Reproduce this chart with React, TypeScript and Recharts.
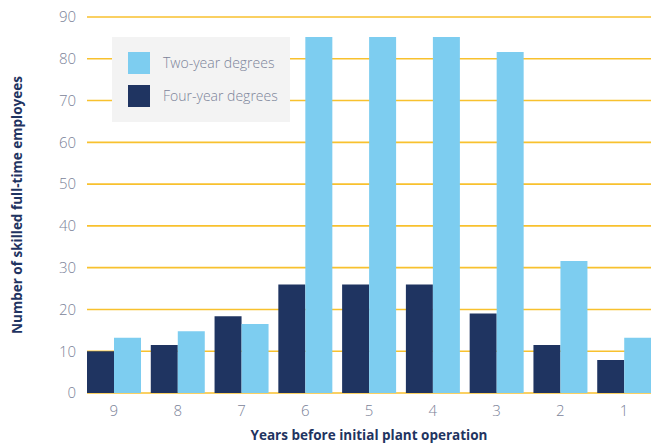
import { BarChart, Bar, XAxis, YAxis, CartesianGrid } from "recharts";

const years = ["9", "8", "7", "6", "5", "4", "3", "2", "1"];
const fourYear = [10, 11.5, 18.4, 26, 26, 26, 19, 11.5, 7.9];
const twoYear = [13.2, 14.8, 16.5, 85.2, 85.2, 85.2, 81.6, 31.6, 13.2];
const yTicks = [0, 10, 20, 30, 40, 50, 60, 70, 80, 90];

const NAVY = "#1f3461";
const SKY = "#7dcdf0";
const GOLD = "#f8c12e";
const GREY_TEXT = "#7b8399";
const FONT = "'Open Sans', sans-serif";

const chartData = years.map((y, i) => ({
  year: y,
  four: fourYear[i],
  two: twoYear[i],
}));

// legend is drawn as an overlay so it doesn't eat into the plot area
function LegendBox() {
  const items = [
    { label: "Two-year degrees", color: SKY },
    { label: "Four-year degrees", color: NAVY },
  ];
  return (
    <div
      style={{
        position: "absolute",
        left: 112,
        top: 37,
        background: "#f3f3f3",
        width: 178,
        height: 85,
        boxSizing: "border-box",
        paddingTop: 9,
        paddingLeft: 16,
      }}
    >
      {items.map((it) => (
        <div key={it.label} style={{ display: "flex", alignItems: "center", height: 33 }}>
          <div style={{ width: 22, height: 22, background: it.color }} />
          <span
            style={{
              marginLeft: 13,
              fontFamily: FONT,
              fontWeight: 300,
              fontSize: 14,
              color: GREY_TEXT,
            }}
          >
            {it.label}
          </span>
        </div>
      ))}
    </div>
  );
}

export default function App() {
  return (
    <div style={{ position: "absolute", left: 0, top: 0, width: 651, height: 444, background: "#fff" }}>
      <BarChart
        width={651}
        height={444}
        data={chartData}
        margin={{ top: 17, right: 0, bottom: 0, left: 0 }}
        barCategoryGap={5}
        barGap={0}
      >
        <CartesianGrid vertical={false} stroke={GOLD} strokeWidth={1.6} />
        <XAxis
          dataKey="year"
          height={51}
          padding={{ left: -5, right: -5 }}
          axisLine={false}
          tickLine={false}
          tickSize={0}
          tickMargin={12}
          tick={{ fill: GREY_TEXT, fontSize: 15, fontFamily: FONT, fontWeight: 300 }}
          label={{
            content: ({ viewBox }: any) => (
              <text
                x={viewBox.x + viewBox.width / 2}
                y={440}
                textAnchor="middle"
                fill={NAVY}
                fontFamily={FONT}
                fontWeight={700}
                fontSize={13.5}
              >
                Years before initial plant operation
              </text>
            ),
          }}
        />
        <YAxis
          width={87}
          domain={[0, 90]}
          ticks={yTicks}
          axisLine={false}
          tickLine={false}
          tickSize={0}
          tickMargin={11}
          tick={{ fill: GREY_TEXT, fontSize: 15, fontFamily: FONT, fontWeight: 300 }}
          label={{
            content: () => (
              <text
                x={22}
                y={205}
                transform="rotate(-90 22 205)"
                textAnchor="middle"
                fill={NAVY}
                fontFamily={FONT}
                fontWeight={700}
                fontSize={13.5}
              >
                Number of skilled full-time employees
              </text>
            ),
          }}
        />
        <Bar dataKey="four" name="Four-year degrees" fill={NAVY} isAnimationActive={false} />
        <Bar dataKey="two" name="Two-year degrees" fill={SKY} isAnimationActive={false} />
      </BarChart>
      <LegendBox />
    </div>
  );
}
